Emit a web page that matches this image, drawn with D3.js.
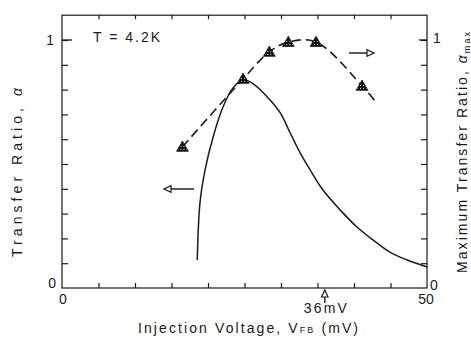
<!DOCTYPE html>
<html><head><meta charset="utf-8">
<script src="https://cdn.jsdelivr.net/npm/d3@7"></script>
<style>body{margin:0;background:#fff}svg{display:block}text{font-family:"Liberation Sans",Arial,sans-serif;fill:#1a1a1a}</style>
</head><body><svg id="c" width="471" height="344"></svg>
<script>
// Data
const xTicks = [0,5,10,15,20,25,30,35,40,45,50];
const yTicks = [0,0.1,0.2,0.3,0.4,0.5,0.6,0.7,0.8,0.9,1];
const xTickLabels = ["0","50"];
const yTickLabels = ["0","1"];
// Transfer ratio alpha vs injection voltage (solid)
const alphaV = [18.53,18.9,19.6,20.7,22.05,23.4,24.8,26.2,28.5,29.9,31.2,32.6,34.0,35.75,38.1,40.4,42.6,44.9,47.3,50];
const alphaA = [0.113,0.343,0.476,0.609,0.730,0.806,0.840,0.823,0.758,0.706,0.629,0.546,0.476,0.395,0.315,0.246,0.194,0.145,0.113,0.085];
// Maximum transfer ratio (triangles, dashed)
const maxV = [16.5,24.8,28.4,31.0,34.8,41.1];
const maxA = [0.569,0.843,0.952,0.992,0.992,0.815];
const dashEndV = [43.2];
const dashEndA = [0.742];

const svg = d3.select("#c");
const x = d3.scaleLinear().domain([0,50]).range([62,427]);
const y = d3.scaleLinear().domain([0,1]).range([288,40]);
const yTop = y(1.1);

const defs = svg.append("defs");
const pat = defs.append("pattern").attr("id","dots").attr("width",3).attr("height",3).attr("patternUnits","userSpaceOnUse");
pat.append("rect").attr("width",3).attr("height",3).attr("fill","#111");
pat.append("rect").attr("x",1).attr("y",1).attr("width",1).attr("height",1).attr("fill","#ddd");

const ink = "#1a1a1a";
const g = svg.append("g");
// frame
g.append("rect").attr("x",x(0)).attr("y",yTop).attr("width",x(50)-x(0)).attr("height",y(0)-yTop)
 .attr("fill","none").attr("stroke",ink).attr("stroke-width",1.2);

// ticks via axes
const axB = d3.axisTop(x).tickValues(xTicks.slice(1,-1)).tickSize(5).tickFormat("");
g.append("g").attr("transform",`translate(0,${y(0)})`).call(axB);
const axT = d3.axisBottom(x).tickValues(xTicks.slice(1,-1)).tickSize(4).tickFormat("");
g.append("g").attr("transform",`translate(0,${yTop})`).call(axT);
const axL = d3.axisRight(y).tickValues(yTicks.slice(1)).tickSize(6).tickFormat("");
g.append("g").attr("transform",`translate(${x(0)},0)`).call(axL);
const axR = d3.axisLeft(y).tickValues(yTicks.slice(1)).tickSize(6).tickFormat("");
g.append("g").attr("transform",`translate(${x(50)},0)`).call(axR);
g.selectAll(".domain").remove();
g.selectAll(".tick line").attr("stroke",ink).attr("stroke-width",1.2);
// longer ticks at 1
g.append("line").attr("x1",x(0)).attr("x2",x(0)+10).attr("y1",y(1)).attr("y2",y(1)).attr("stroke",ink).attr("stroke-width",1.3);
g.append("line").attr("x1",x(50)).attr("x2",x(50)-8).attr("y1",y(1)).attr("y2",y(1)).attr("stroke",ink).attr("stroke-width",1.3);

// tick labels
const fs = 14;
svg.append("text").attr("x",x(0)-8).attr("y",y(1)+5).attr("text-anchor","end").attr("font-size",fs).text(yTickLabels[1]);
svg.append("text").attr("x",x(0)-6).attr("y",y(0)).attr("text-anchor","end").attr("font-size",fs).text(yTickLabels[0]);
svg.append("text").attr("x",x(50)+6).attr("y",y(1)+3).attr("text-anchor","start").attr("font-size",fs).text(yTickLabels[1]);
svg.append("text").attr("x",x(50)+3).attr("y",y(0)+2).attr("text-anchor","start").attr("font-size",fs).text(yTickLabels[0]);
svg.append("text").attr("x",x(0)+1).attr("y",y(0)+16).attr("text-anchor","middle").attr("font-size",fs).text(xTickLabels[0]);
svg.append("text").attr("x",x(50)-1).attr("y",y(0)+16).attr("text-anchor","middle").attr("font-size",fs).text(xTickLabels[1]);

// curves
const line = d3.line().x(d=>x(d[0])).y(d=>y(d[1])).curve(d3.curveCatmullRom.alpha(0.5));
svg.append("path").attr("d",line(alphaV.map((v,i)=>[v,alphaA[i]])))
 .attr("fill","none").attr("stroke",ink).attr("stroke-width",1.5);
const dpts = maxV.map((v,i)=>[v,maxA[i]]).concat(dashEndV.map((v,i)=>[v,dashEndA[i]]));
svg.append("path").attr("d",line(dpts)).attr("fill","none").attr("stroke",ink)
 .attr("stroke-width",1.6).attr("stroke-dasharray","9,5");
const tri = d3.symbol().type(d3.symbolTriangle).size(60);
svg.selectAll(".tri").data(maxV.map((v,i)=>[v,maxA[i]])).join("path")
 .attr("d",tri).attr("transform",d=>`translate(${x(d[0])},${y(d[1])+1})`)
 .attr("fill","url(#dots)").attr("stroke","#111").attr("stroke-width",0.8);

// arrows
function arrow(x1,y1,x2,y2){
  svg.append("line").attr("x1",x1).attr("y1",y1).attr("x2",x2).attr("y2",y2).attr("stroke",ink).attr("stroke-width",1.4);
  const a=Math.atan2(y2-y1,x2-x1), L=7, W=3.2;
  const p=[[x2,y2],[x2-L*Math.cos(a)+W*Math.sin(a),y2-L*Math.sin(a)-W*Math.cos(a)],[x2-L*Math.cos(a)-W*Math.sin(a),y2-L*Math.sin(a)+W*Math.cos(a)]];
  svg.append("path").attr("d","M"+p.join("L")+"Z").attr("fill","#fff").attr("stroke",ink).attr("stroke-width",1.2);
}
arrow(194,189,164,189);
arrow(349,53,374,53);
arrow(x(36),303,x(36),290);

// texts
svg.append("text").attr("x",93).attr("y",42).attr("font-size",14).attr("textLength",67).attr("lengthAdjust","spacing").text("T = 4.2K");
svg.append("text").attr("x",x(36)-21).attr("y",313).attr("font-size",14).attr("textLength",43).attr("lengthAdjust","spacing").text("36mV");
const xt = svg.append("text").attr("x",138).attr("y",333).attr("font-size",14).attr("textLength",220).attr("lengthAdjust","spacing");
xt.append("tspan").text("Injection Voltage, V");
xt.append("tspan").attr("font-size",9).text("FB");
xt.append("tspan").text(" (mV)");
const lt = svg.append("text").attr("transform","translate(22,257) rotate(-90)").attr("font-size",14).attr("textLength",169).attr("lengthAdjust","spacing");
lt.append("tspan").text("Transfer Ratio, ");
lt.append("tspan").attr("font-style","italic").text("α");
const rt = svg.append("text").attr("transform","translate(467,273) rotate(-90)").attr("font-size",14).attr("textLength",241).attr("lengthAdjust","spacing");
rt.append("tspan").text("Maximum Transfer Ratio, ");
rt.append("tspan").attr("font-style","italic").text("α");
rt.append("tspan").attr("font-size",9).attr("dy",3).text("max");
</script></body></html>
